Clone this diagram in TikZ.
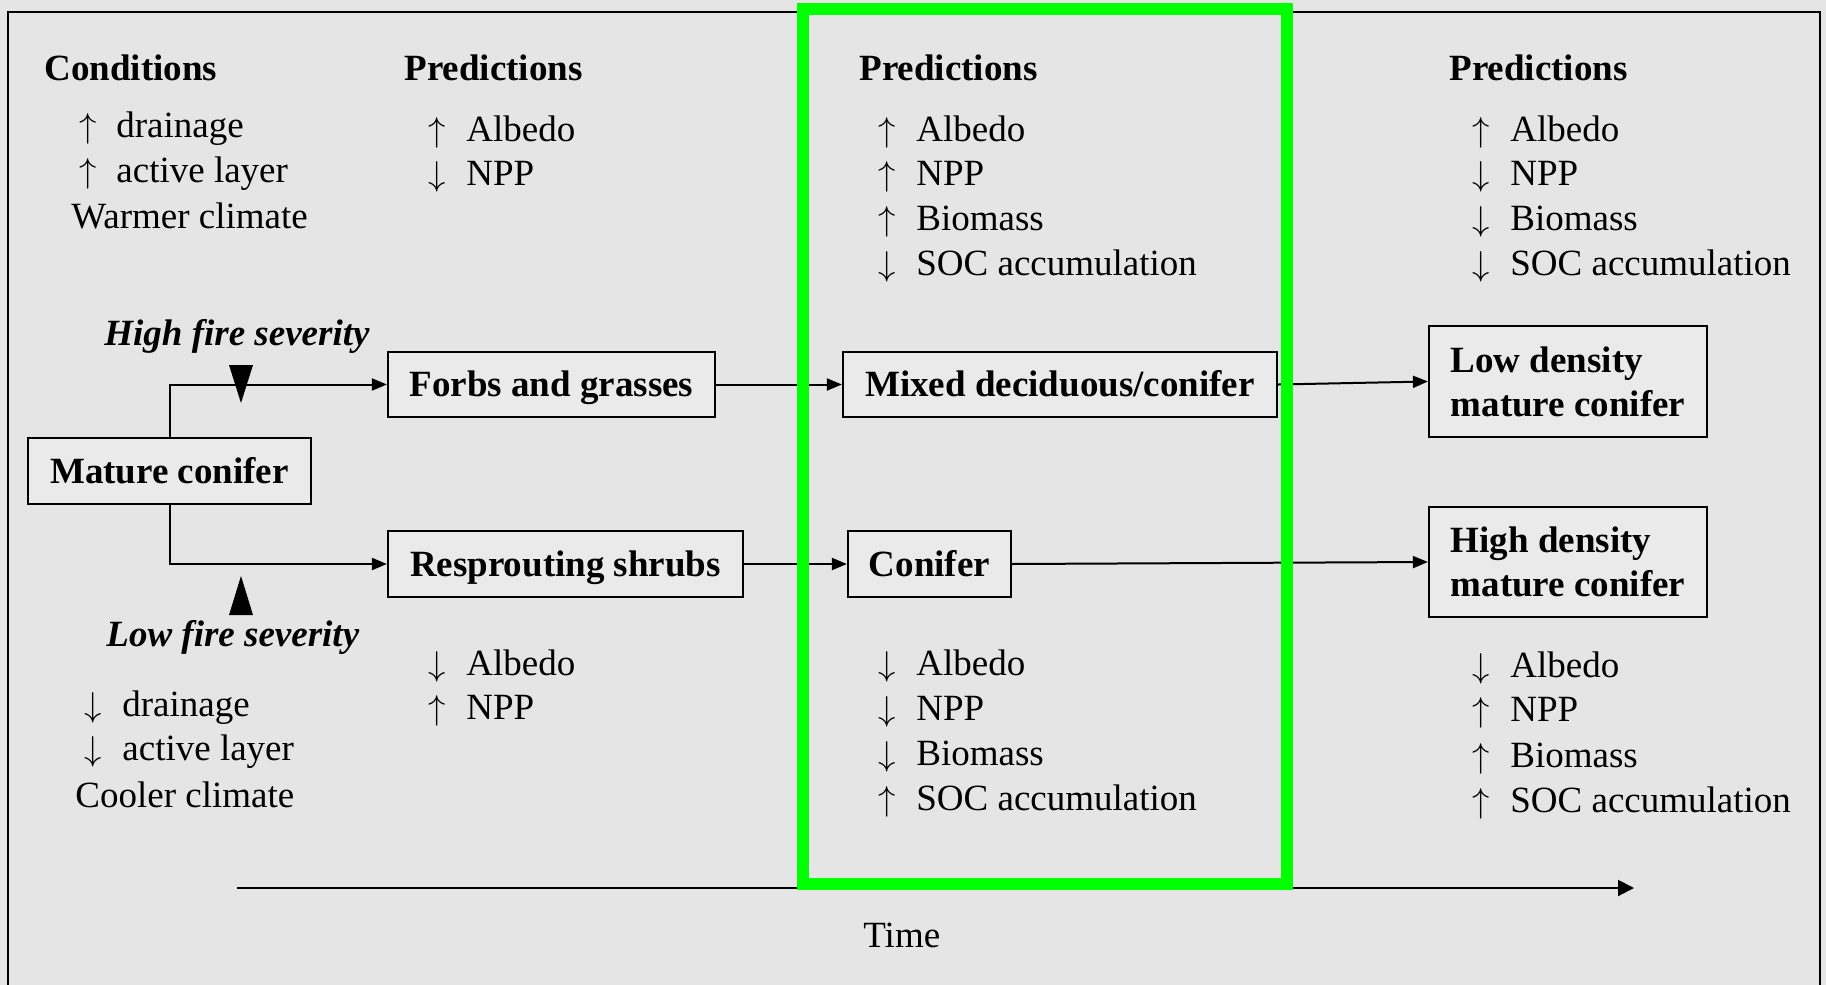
\documentclass[tikz,border=0pt]{standalone}
\usepackage{fontspec}
\setmainfont{Liberation Serif}
\usetikzlibrary{arrows.meta}
\definecolor{bg}{RGB}{229,229,229}
\definecolor{boxfill}{RGB}{234,234,234}
\definecolor{hl}{RGB}{0,255,0}
\newcommand\up{$\uparrow$}
\newcommand\dn{$\downarrow$}
\newcommand\pline[6]{%
  \node[arr] (#1a) at (#4,#6) {#2};
  \node[txt] (#1t) at (#5,#6) {#3};}
\begin{document}
\begin{tikzpicture}[x=0.5pt,y=-0.5pt,
  every node/.style={font=\fontsize{18.5}{22}\selectfont},
  txt/.style={inner sep=0pt, anchor=base west},
  arr/.style={inner sep=0pt, anchor=base},
  hd/.style={txt, font=\fontsize{18.5}{22}\selectfont\bfseries},
  fire/.style={txt, font=\fontsize{18.5}{22}\selectfont\bfseries\itshape},
  stage/.style={draw, line width=1.1pt, fill=boxfill, inner sep=0pt,
    font=\fontsize{18.5}{22}\selectfont\bfseries},
  one/.style={text height=12.4pt, text depth=0pt},
  two/.style={align=left},
  flow/.style={line width=1pt, -{Triangle[length=7.5pt,width=6pt]}},
  timeline/.style={line width=1pt, -{Triangle[length=8pt,width=8pt]}},
  frame/.style={line width=1pt},
  highlight/.style={draw=hl, line width=6pt}]
\useasboundingbox (0,0) rectangle (1826,985);
\fill[bg] (0,0) rectangle (1826,985);
\draw[frame] (8,990) -- (8,12) -- (1820,12) -- (1820,990);

% headings
\node[hd] (cond) at (44,80) {Conditions};
\node[hd] (pred2) at (404,80) {Predictions};
\node[hd] (pred3) at (859,80) {Predictions};
\node[hd] (pred4) at (1449,80) {Predictions};

% conditions (upper)
\pline{cu1}{\up}{drainage}{88}{116}{137}
\pline{cu2}{\up}{active layer}{88}{116}{182}
\node[txt] (warm) at (71,228) {Warmer climate};

% column 2 upper
\pline{pa1}{\up}{Albedo}{437}{466}{141}
\pline{pa2}{\dn}{NPP}{437}{466}{185}

% column 3 upper
\pline{pb1}{\up}{Albedo}{887}{916}{141}
\pline{pb2}{\up}{NPP}{887}{916}{185}
\pline{pb3}{\up}{Biomass}{887}{916}{230}
\pline{pb4}{\dn}{SOC accumulation}{887}{916}{275}

% column 4 upper
\pline{pc1}{\up}{Albedo}{1481}{1510}{141}
\pline{pc2}{\dn}{NPP}{1481}{1510}{185}
\pline{pc3}{\dn}{Biomass}{1481}{1510}{230}
\pline{pc4}{\dn}{SOC accumulation}{1481}{1510}{275}

% fire labels
\node[fire] (hfs) at (104,345) {High fire severity};
\node[fire] (lfs) at (106,646) {Low fire severity};

% stage boxes
\node[stage, one, minimum width=141.5pt, minimum height=33pt] (mature) at (169.5,471) {Mature conifer};
\node[stage, one, minimum width=163.5pt, minimum height=32.5pt] (forbs) at (551.5,384.5) {Forbs and grasses};
\node[stage, one, minimum width=177.5pt, minimum height=33pt] (resprout) at (565.5,564) {Resprouting shrubs};
\node[stage, one, minimum width=217pt, minimum height=32.5pt] (mixed) at (1060,384.5) {Mixed deciduous/conifer};
\node[stage, one, minimum width=81.5pt, minimum height=33pt] (conifer) at (929.5,564) {Conifer};
\node[stage, two, minimum width=139pt, minimum height=55.5pt] (lowd) at (1568,381.5) {Low density\\mature conifer};
\node[stage, two, minimum width=139pt, minimum height=55pt] (highd) at (1568,562) {High density\\mature conifer};

% connectors
\draw[flow] (mature.north) |- (forbs.west);
\draw[flow] (mature.south) |- (resprout.west);
\draw[flow] (forbs.east) -- (mixed.west);
\draw[flow] (resprout.east) -- (conifer.west);
\draw[flow] (mixed.east) -- (lowd.west);
\draw[flow] (conifer.east) -- (highd.west);

% fire severity markers
\fill (229,365) -- (253,365) -- (241,403) -- cycle;
\fill (229,615) -- (253,615) -- (241,576) -- cycle;

% conditions (lower)
\pline{cl1}{\dn}{drainage}{93}{122}{716}
\pline{cl2}{\dn}{active layer}{93}{122}{760}
\node[txt] (cool) at (75,807) {Cooler climate};

% column 2 lower
\pline{qa1}{\dn}{Albedo}{437}{466}{675}
\pline{qa2}{\up}{NPP}{437}{466}{719}

% column 3 lower
\pline{qb1}{\dn}{Albedo}{887}{916}{675}
\pline{qb2}{\dn}{NPP}{887}{916}{720}
\pline{qb3}{\dn}{Biomass}{887}{916}{765}
\pline{qb4}{\up}{SOC accumulation}{887}{916}{810}

% column 4 lower
\pline{qc1}{\dn}{Albedo}{1481}{1510}{677}
\pline{qc2}{\up}{NPP}{1481}{1510}{721}
\pline{qc3}{\up}{Biomass}{1481}{1510}{767}
\pline{qc4}{\up}{SOC accumulation}{1481}{1510}{812}

% time axis
\coordinate (t0) at (237,888);
\coordinate (t1) at (1634,888);
\draw[timeline] (t0) -- (t1);
\node[txt] (time) at (863,947) {Time};

% highlight
\draw[highlight] (803,9) rectangle (1287,884);
\end{tikzpicture}
\end{document}
